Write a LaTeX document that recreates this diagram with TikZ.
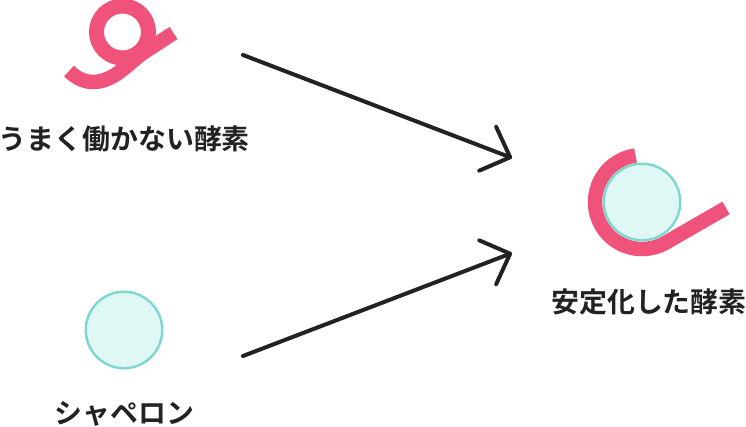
\documentclass[tikz,border=0pt]{standalone}
\usepackage{fontspec}
\setmainfont{Noto Sans CJK JP}[BoldFont={Noto Sans CJK JP Bold}]
\usetikzlibrary{arrows.meta}
\definecolor{enzyme}{HTML}{EF527B}
\definecolor{chapfill}{HTML}{DFF8F5}
\definecolor{chapline}{HTML}{7CD8CF}
\definecolor{ink}{HTML}{222222}
\tikzset{
  x=1pt,y=-1pt,
  label text/.style={font=\fontsize{27.9}{32}\selectfont\bfseries,text=ink,inner sep=0pt,anchor=center},
  chaperone/.style={circle,draw=chapline,fill=chapfill,line width=2.4pt,minimum size=76.5pt,inner sep=0pt},
  enzyme strand/.style={draw=enzyme,line width=14.5pt,line cap=butt,line join=round},
  flow/.style={draw=ink,line width=4pt,line cap=round,-{Straight Barb[length=24pt,width=47pt,line width=4pt,round]}},
}
\begin{document}
\begin{tikzpicture}
\useasboundingbox (0,0) rectangle (746,427);
% misfolded enzyme
\draw[enzyme strand,line width=15pt] (122.5,32) circle[radius=26];
\draw[enzyme strand] (173.5,33) -- (146,51) .. controls (130,61) and (115,82) .. (93,82) .. controls (84,82) and (76,78) .. (69,71);
% chaperone alone
\node[chaperone] (chap) at (124,330) {};
% stabilised enzyme
\coordinate (ctr) at (642,202);
\draw[enzyme strand] (635.5,155.5) arc[start angle=-98,end angle=-300,radius=47] coordinate (tan) -- (726,208);
\node[chaperone] (chapbound) at (ctr) {};
% labels
\node[label text] (bad) at (124.3,139) {うまく働かない酵素};
\node[label text] (chaplabel) at (124.5,414) {シャペロン};
\node[label text] (good) at (649,302) {安定化した酵素};
% arrows
\coordinate (a1) at (243,55);
\coordinate (a2) at (243,356);
\coordinate (t1) at (512,158);
\coordinate (t2) at (512,253);
\draw[flow] (a1) -- (t1);
\draw[flow] (a2) -- (t2);
\end{tikzpicture}
\end{document}
